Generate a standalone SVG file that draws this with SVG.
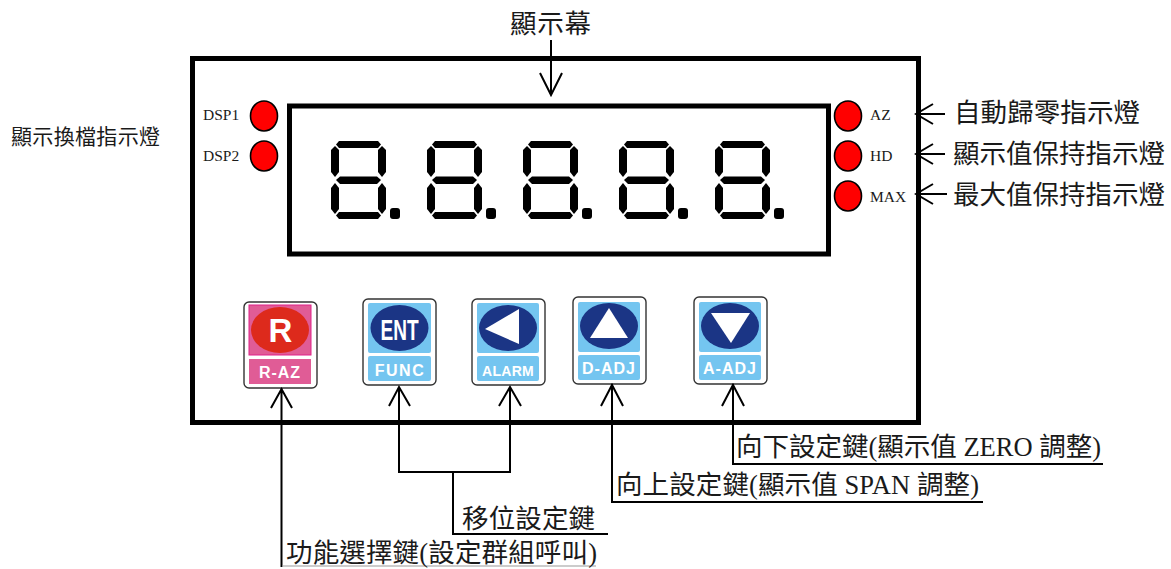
<svg xmlns="http://www.w3.org/2000/svg" xmlns:xlink="http://www.w3.org/1999/xlink" width="1171" height="569" viewBox="0 0 1171 569">
<style>
text{font-family:"Liberation Serif","Noto Sans CJK TC",serif;fill:#1a1a1a}
.cn{font-size:26.500px}
.sm{font-size:15.500px;font-family:"Liberation Serif",serif}
.led{fill:#f00;stroke:#000;stroke-width:1.6}
.frame{fill:#fff;stroke:#000;stroke-width:5}
.cap{fill:#fff;stroke:#333;stroke-width:1.4}
.lbl{font-family:"Liberation Sans",sans-serif;font-weight:700;fill:#fff;font-size:15px;text-anchor:middle;letter-spacing:1px}
.blue{fill:#74c5f0}.pink{fill:#e05c96}.navy{fill:#1b3585}
.c{fill:none;stroke:#000;stroke-width:2}
</style>
<defs>
<g id="digit" fill="#000">
<path d="M336 144.500L339 141H378L381 144.500L378 148H339Z"/>
<path d="M336 180L340 176.500H377L381 180L377 184H340Z"/>
<path d="M336 215.500L339 212H378L381 215.500L378 219H339Z"/>
<path d="M331 150L335 146L339 150V172L335 177L331 172Z"/>
<path d="M378 150L382 146L386 150V172L382 177L378 172Z"/>
<path d="M331 188L335 183L339 188V209L335 214L331 209Z"/>
<path d="M378 188L382 183L386 188V209L382 214L378 209Z"/>
<rect x="390" y="208" width="10" height="11" rx="3"/>
</g>
</defs>
<g id="panel"><rect class="frame" x="192.500" y="58.500" width="726" height="364"/></g>
<g id="display">
<rect class="frame" x="289.500" y="106" width="539" height="148"/>
<use xlink:href="#digit"/><use xlink:href="#digit" x="96"/><use xlink:href="#digit" x="192"/><use xlink:href="#digit" x="288"/><use xlink:href="#digit" x="384"/>
</g>
<g id="led-dsp1"><ellipse class="led" cx="264" cy="116" rx="13.500" ry="15"/><text class="sm" x="203" y="120">DSP1</text></g>
<g id="led-dsp2"><ellipse class="led" cx="264" cy="156" rx="13.500" ry="15"/><text class="sm" x="203" y="161">DSP2</text></g>
<g id="led-az"><ellipse class="led" cx="848" cy="116" rx="13.500" ry="15"/><text class="sm" x="870" y="120">AZ</text></g>
<g id="led-hd"><ellipse class="led" cx="848" cy="156" rx="13.500" ry="15"/><text class="sm" x="870" y="161">HD</text></g>
<g id="led-max"><ellipse class="led" cx="848" cy="196" rx="13.500" ry="15"/><text class="sm" x="870" y="202">MAX</text></g>

<g id="btn-raz">
<rect class="cap" x="244" y="302" width="73" height="86" rx="5"/>
<rect class="pink" x="249" y="305" width="62" height="50" stroke="#e0208a"/>
<rect class="pink" x="249" y="359" width="62" height="25"/>
<ellipse cx="280" cy="330" rx="29" ry="23" fill="#dd2a1c"/>
<text x="280.500" y="342" style="font-family:'Liberation Sans',sans-serif;font-weight:700;font-size:33px;fill:#fff;text-anchor:middle">R</text>
<text class="lbl" x="280" y="378" style="font-size:16px">R-AZ</text>
</g>
<g id="btn-func">
<rect class="cap" x="363" y="299" width="73" height="86" rx="5"/>
<rect class="blue" x="368" y="303" width="63" height="50" rx="2"/>
<rect class="blue" x="368" y="356" width="63" height="25" rx="2"/>
<ellipse cx="399.500" cy="328" rx="29" ry="23" class="navy"/>
<text x="399.500" y="340" textLength="38" lengthAdjust="spacingAndGlyphs" style="font-family:'Liberation Sans',sans-serif;font-weight:700;font-size:30px;fill:#fff;text-anchor:middle">ENT</text>
<text class="lbl" x="400" y="376" style="font-size:16px;letter-spacing:1.500px">FUNC</text>
</g>
<g id="btn-alarm">
<rect class="cap" x="472" y="299" width="73" height="86" rx="5"/>
<rect class="blue" x="477" y="303" width="62" height="50" rx="2"/>
<rect class="blue" x="477" y="356" width="62" height="25" rx="2"/>
<ellipse cx="508" cy="328" rx="29" ry="23" class="navy"/>
<path d="M485 329L519 309V344Z" fill="#fff"/>
<text class="lbl" x="508" y="376" style="font-size:14px;letter-spacing:.3px">ALARM</text>
</g>
<g id="btn-dadj">
<rect class="cap" x="573" y="297" width="73" height="87" rx="5"/>
<rect class="blue" x="578" y="302" width="62" height="50" rx="2"/>
<rect class="blue" x="578" y="355" width="62" height="25" rx="2"/>
<ellipse cx="609" cy="326" rx="29" ry="23" class="navy"/>
<path d="M609 308L590 338H628Z" fill="#fff"/>
<text class="lbl" x="609" y="374" style="font-size:16px">D-ADJ</text>
</g>
<g id="btn-aadj">
<rect class="cap" x="694" y="297" width="73" height="87" rx="5"/>
<rect class="blue" x="699" y="302" width="62" height="50" rx="2"/>
<rect class="blue" x="699" y="355" width="62" height="25" rx="2"/>
<ellipse cx="730" cy="326" rx="29" ry="23" class="navy"/>
<path d="M711 313H750L731 343Z" fill="#fff"/>
<text class="lbl" x="730" y="374" style="font-size:16px">A-ADJ</text>
</g>

<g id="connectors">
<path class="c" d="M551 40V95M540 73L551 95L562 73"/>
<path class="c" d="M945 114H919M933 104L916 114L933 124M945 154H919M933 144L916 154L933 164M947 194H919M933 184L916 194L933 204"/>
<path class="c" d="M281.500 388V567M271 408L281.500 389L292 408"/>
<path class="c" d="M399 387V472H510V387M389 406L399 387L410 406M499 406L510 387L521 406M398 472H511"/>
<path class="c" d="M453 472V534H608"/>
<path class="c" d="M612 384V502H983M601 406L612 385L623 406"/>
<path class="c" d="M733 384V464H1103M722 406L733 385L744 406"/>
<path d="M282 566H596" stroke="#999" stroke-width="1" fill="none"/>
</g>

<g id="labels">
<text class="cn" x="510" y="33" textLength="81">顯示幕</text>
<text x="11" y="144" style="font-size:21px" textLength="149">顯示換檔指示燈</text>
<text class="cn" x="954" y="122" textLength="186">自動歸零指示燈</text>
<text class="cn" x="953" y="163" textLength="212">顯示值保持指示燈</text>
<text class="cn" x="953" y="204" textLength="212">最大值保持指示燈</text>
<text class="cn" x="462" y="528" textLength="133">移位設定鍵</text>
<text class="cn" x="286" y="562" textLength="311">功能選擇鍵(設定群組呼叫)</text>
<text class="cn" x="616" y="494" textLength="363">向上設定鍵(顯示值 SPAN 調整)</text>
<text class="cn" x="736" y="456" textLength="365">向下設定鍵(顯示值 ZERO 調整)</text>
</g>
</svg>
